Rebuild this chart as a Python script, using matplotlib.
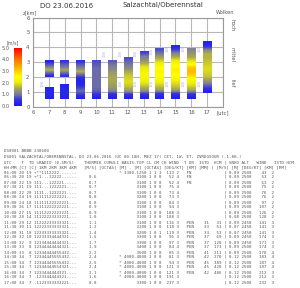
import numpy as np
import matplotlib
matplotlib.use("Agg")
import matplotlib.pyplot as plt
from matplotlib.colors import LinearSegmentedColormap, Normalize
from matplotlib.cm import ScalarMappable

# ---------------- data ----------------
title_date = "DO 23.06.2016"
title_region = "Salzachtal/Oberennstal"

x_ticks = [6, 7, 8, 9, 10, 11, 12, 13, 14, 15, 16, 17, 18]
x_tick_labels = ["6", "7", "8", "9", "10", "11", "12", "13", "14", "15", "16", "17", "[utc]"]
y_ticks = [0, 1, 2, 3, 4, 5, 6]
y_tick_labels = ["0", "1", "2", "3", "4", "5", "6"]

cbar_ticks = [0, 1, 2, 3, 4, 5]
cbar_tick_labels = ["0.0", "1.0", "2.0", "3.0", "4.0", "5.0"]

cloud_layer_names = ["hoch", "mittel", "tief"]
cloud_layer_z = [5.5, 3.5, 1.6]

# bar segments (hour, bottom km, top km, wind speeds bottom->top in m/s)
seg_hour = [7, 7, 8, 8, 9, 10, 11, 12, 13, 14, 15, 16, 17]
seg_bottom = [0.55, 2.0, 0.55, 2.0, 0.55, 0.55, 0.55, 0.55, 0.55, 0.55, 0.55, 0.55, 0.92]
seg_top = [1.33, 3.12, 1.55, 3.12, 3.12, 3.12, 3.13, 3.33, 3.74, 3.94, 4.14, 3.94, 4.34]
seg_speed = [
    [0.2, 0.3, 0.3, 0.2],
    [0.3, 0.9, 1.6, 1.1, 0.7, 0.2],
    [0.2, 0.3, 0.3, 0.3, 0.2],
    [0.5, 0.9, 1.5, 1.0, 0.8, 0.5],
    [0.2, 0.6, 0.9, 0.6, 0.3, 0.2, 0.4, 0.9, 1.6, 1.1, 0.8, 0.5],
    [0.2, 0.5, 0.8, 0.9, 0.9, 0.9, 0.9, 0.9, 0.9, 0.9, 0.8, 0.7],
    [0.2, 0.4, 1.1, 1.3, 1.4, 1.5, 1.5, 1.4, 1.3, 1.1, 1.0, 0.8],
    [0.2, 0.5, 1.3, 1.6, 1.8, 1.9, 1.8, 1.7, 1.5, 1.2, 1.0, 0.9, 0.7],
    [0.2, 0.5, 1.3, 1.6, 1.9, 2.1, 2.3, 2.3, 2.1, 1.9, 1.5, 1.2, 1.0, 0.6],
    [0.2, 0.5, 1.4, 1.7, 2.0, 2.3, 2.5, 2.6, 2.5, 2.2, 1.8, 1.4, 1.0, 0.7],
    [0.2, 0.5, 1.4, 1.7, 1.9, 2.2, 2.5, 2.6, 2.6, 2.4, 2.1, 1.6, 1.2, 0.7, 0.3],
    [0.2, 0.6, 1.5, 1.8, 2.1, 2.4, 2.9, 3.2, 3.1, 2.5, 1.9, 1.5, 1.3, 1.1],
    [0.2, 0.6, 1.0, 1.4, 1.7, 1.8, 1.9, 1.8, 1.7, 1.6, 1.6, 1.2, 0.5, 0.2],
]

cloud_label_hour = [6.57, 10.5, 11.5, 12.5, 13.5, 14.5, 15.5, 16.5,
                    11.5, 12.5, 13.5, 14.5, 15.5, 16.5]
cloud_label_z = [1.55, 3.6, 3.6, 3.6, 3.75, 3.9, 3.9, 3.9,
                 1.55, 1.55, 1.55, 1.55, 1.55, 1.55]
cloud_label_text = ["1/8"] * 14

# text table
table_head = [
    "DS0001 BBBB 230600",
    "DS001 SALZACHTAL/OBERENNSTAL, DO 23.06.2016 (UC 00-18H, MEZ 17) CET, 1W, ET, ZVRDGSOUR (-1.8H-)",
    "UTC    T  TD %RADIO (0.5M/S)    THERMIK CUMULI BASIS-TOP CL CM CH WIND  T DR  ISTD  HCM | SNHO ALT   WIND   ISTD HCM",
    "HH:MM [C] [C] 1KM 2KM 3KM 4KM   [M/S] [OCTAS] [M] - [M] [OCTAS] [DEG/KT] [KM] [MM] | [M/S] [M] [DEG/KT] [KM] [MM]",
]
row_time = ["06:00", "06:30", "07:00", "07:30", "08:00", "08:30", "09:00", "09:30",
            "10:00", "10:30", "11:00", "11:30", "12:00", "12:30", "13:00", "13:30",
            "14:00", "14:30", "15:00", "15:30", "16:00", "16:30", "17:00"]
row_t = [20, 20, 22, 21, 22, 24, 24, 26, 27, 28, 29, 30, 31, 32, 32, 33, 33, 34, 34, 34, 34, 34, 34]
row_td = [19, 19, 19, 19, 20, 19, 18, 17, 15, 14, 12, 11, 10, 10, 9, 8, 8, 7, 7, 7, 7, 7, 7]
row_prof = ["+**1112222-------", "+*1...12222------", "111...122221-----", "111...1222221----",
            "1111..1222221----", "1111112222221----", "11111122222221---", "11111222222221---",
            "11112222222221---", "11122223333221---", "11222233333321---", "12222333333321---",
            "12233333333321---", "12233334444321---", "12334444444321---", "12344444444321---",
            "12344444455432---", "12344445555432---", "12344445555432---", "12344444554321---",
            "1233444444321----", ".123344444321----", ".1123333332221---"]
row_therm = ["", "0.6", "0.7", "0.7", "0.7", "0.8", "0.8", "0.9", "0.9", "1.0", "1.1", "1.2",
             "1.4", "1.5", "1.7", "1.9", "2.2", "2.4", "2.5", "2.4", "2.1", "1.6", "0.8"]
row_cumuli = ["* 3300-1250", "3100", "3100", "3100", "3100", "3200", "3100", "3100", "3100",
              "3100", "3100", "3200", "3200", "3300", "3300", "3400", "3500",
              "* 4000-4000", "* 4000-4000", "* 4000-4000", "* 4000-4000", "* 4000-4000", "3300"]
row_cl = [1] * 23
row_cm = [1, 0, 0, 0, 0, 0, 0, 0, 0, 0, 0, 0, 0, 0, 0, 0, 0, 0, 0, 0, 0, 0, 0]
row_ch = [3, 0, 0, 0, 0, 0, 0, 0, 0, 0, 0, 0, 1, 0, 0, 0, 0, 0, 0, 0, 0, 0, 0]
row_wdir = [113, 52, 52, 75, 73, 73, 84, 94, 108, 108, 116, 118, 119, 95, 97, 84, 85, 81,
            94, 121, 121, 191, 237]
row_wspd = [2, 4, 4, 4, 4, 3, 3, 3, 3, 3, 3, 3, 3, 3, 3, 4, 3, 3, 3, 3, 3, 3, 3]
row_dr = ["FN", "FN", "FN", "", "", "", "", "", "", "", "PEN", "PEN", "PEN", "PEN", "PEN",
          "PEN", "PEN", "PEN", "PEN", "PEN", "PEN", "", ""]
row_istd = ["", "", "", "", "", "", "", "", "", "", "31", "33", "33", "37", "37", "37",
            "41", "42", "45", "45", "42", "", ""]
row_hcm = ["", "", "", "", "", "", "", "", "", "", "31", "53", "53", "69", "120", "173",
           "211", "270", "389", "420", "486", "", ""]
row_snho = ["0.09"] * 9 + ["0.08", "0.09", "0.07", "0.07", "0.09", "0.09", "0.09", "0.09",
                           "0.12", "0.12", "0.12", "0.12", "0.12", "0.12"]
row_alt = [2500] * 10 + [2450, 2450, 2450, 2450, 2450, 2500, 2500, 2500, 2500, 2500, 2500, 2500, 2500]
row_wdir2 = [43, 53, 63, 75, 76, 76, 97, 107, 126, 128, 141, 141, 141, 174, 171, 174, 178,
             183, 187, 187, 212, 212, 232]
row_wspd2 = [2, 2, 2, 2, 2, 2, 2, 2, 2, 2, 3, 3, 3, 3, 3, 3, 4, 4, 4, 4, 3, 3, 3]

# ---------------- figure ----------------
W, H = 300, 288
fig = plt.figure(figsize=(W / 100, H / 100), dpi=100)
fig.patch.set_facecolor("white")


def fx(px):
    return px / W


def fy(py):
    return 1 - py / H


cmap = LinearSegmentedColormap.from_list(
    "wind",
    [(0.0, (0.10, 0.10, 0.95)),
     (0.1, (0.20, 0.20, 0.88)),
     (0.2, (0.48, 0.48, 0.62)),
     (0.3, (0.66, 0.66, 0.32)),
     (0.4, (0.93, 0.93, 0.05)),
     (0.5, (1.00, 1.00, 0.00)),
     (0.6, (1.00, 0.80, 0.00)),
     (0.8, (1.00, 0.45, 0.00)),
     (1.0, (1.00, 0.00, 0.00))])
norm = Normalize(vmin=0, vmax=5)

ax = fig.add_axes([fx(33), fy(107), fx(223) - fx(33), fy(17.5) - fy(107)])
ax.set_facecolor("white")
bar_w = 0.54
for h, zb, zt, sp in zip(seg_hour, seg_bottom, seg_top, seg_speed):
    arr = np.repeat(np.array(sp, dtype=float).reshape(-1, 1), 2, axis=1)
    ax.imshow(arr, extent=[h - bar_w / 2, h + bar_w / 2, zb, zt], origin="lower",
              cmap=cmap, norm=norm, aspect="auto", interpolation="bilinear", zorder=3)

for hx, zz, tt in zip(cloud_label_hour, cloud_label_z, cloud_label_text):
    ax.text(hx, zz, tt, rotation=90, fontsize=3.2, color="#b4b4e8",
            ha="center", va="center", zorder=4)

ax.set_xlim(6, 18)
ax.set_ylim(0, 6)
ax.set_xticks(x_ticks)
ax.set_xticklabels(x_tick_labels)
ax.set_yticks(y_ticks)
ax.set_yticklabels(y_tick_labels)
ax.grid(True, color="#b8b8b8", linewidth=0.8, zorder=0)
ax.set_axisbelow(True)
ax.tick_params(length=0, labelsize=3.8, colors="#555555", pad=2.5)
for s in ax.spines.values():
    s.set_color("#999999")
    s.set_linewidth(0.8)

# colorbar
cax = fig.add_axes([fx(14), fy(105.7), fx(8), (105.7 - 47.7) / H])
cb = fig.colorbar(ScalarMappable(norm=norm, cmap=cmap), cax=cax)
cb.outline.set_visible(False)
cax.yaxis.set_ticks_position("left")
cb.set_ticks(cbar_ticks)
cb.set_ticklabels(cbar_tick_labels)
cax.tick_params(length=0, labelsize=3.6, colors="#555555", pad=3)
fig.text(fx(13), fy(43), "[m/s]", fontsize=3.4, color="#555555", ha="center", va="center")

# titles and axis captions
fig.text(fx(40), fy(5.5), title_date, fontsize=5, color="#333333", ha="left", va="center")
fig.text(fx(123), fy(5.5), title_region, fontsize=5, color="#333333", ha="left", va="center")
fig.text(fx(30), fy(13), "z[km]", fontsize=3.6, color="#555555", ha="center", va="center")
fig.text(fx(225), fy(13), "Wolken", fontsize=3.6, color="#555555", ha="center", va="center")
for name, zz in zip(cloud_layer_names, cloud_layer_z):
    ypx = 107 - zz * (107 - 17.5) / 6
    fig.text(fx(232), fy(ypx), name, fontsize=3.6, color="#555555", rotation=270,
             ha="center", va="center")

# table text
mono = "DejaVu Sans Mono"
tcol = "#555555"
tfs = 3.0
head_y = [151, 157, 162, 167]
for line, yy in zip(table_head, head_y):
    fig.text(fx(4), fy(yy), line, fontsize=tfs, family=mono, color=tcol, ha="left", va="center")

for i in range(len(row_time)):
    line = (f"{row_time[i]:5s} {row_t[i]:2d} {row_td[i]:2d} {row_prof[i]:17s}"
            f"{row_therm[i]:>8s}{row_cumuli[i]:>20s} {row_cl[i]} {row_cm[i]} {row_ch[i]}"
            f"{row_wdir[i]:>5d} {row_wspd[i]}   {row_dr[i]:3s} {row_istd[i]:>5s} {row_hcm[i]:>4s}"
            f" | {row_snho[i]} {row_alt[i]} {row_wdir2[i]:>5d} {row_wspd2[i]:>2d}")
    fig.text(fx(4), fy(172 + 5 * i), line, fontsize=tfs, family=mono, color=tcol,
             ha="left", va="center")

fig.savefig("out.png", dpi=100, facecolor="white")
